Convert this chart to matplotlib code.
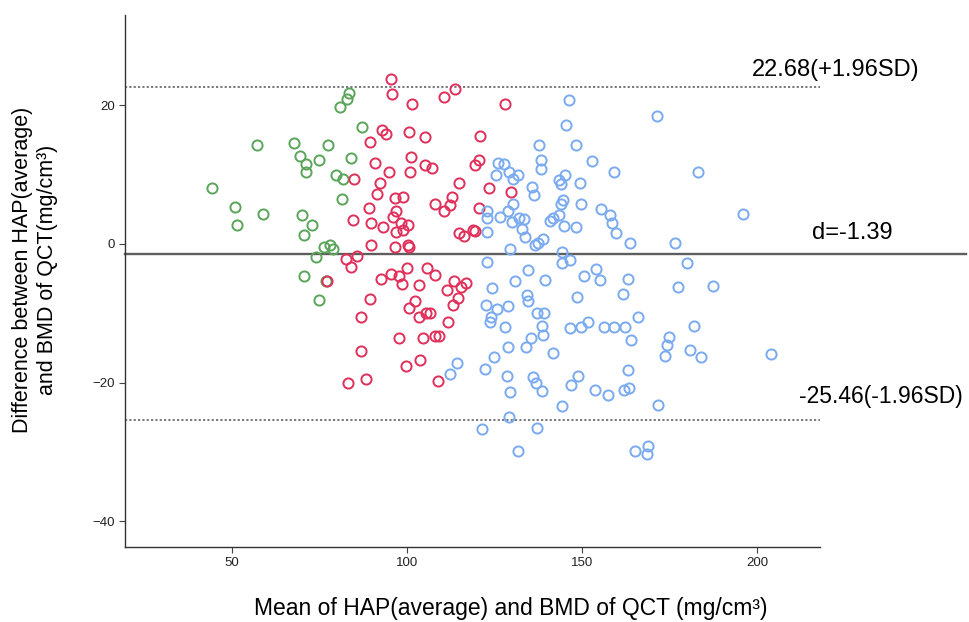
import matplotlib
matplotlib.use('Agg')
import matplotlib.pyplot as plt
import matplotlib.transforms as mtransforms

plt.rcParams['font.family'] = ['Liberation Sans', 'DejaVu Sans']

# ---- data ----
green_x = [80.7, 83.3, 82.8, 57.1, 67.8, 77.3, 69.5, 71.1, 74.9, 71.1, 79.7, 81.8, 44.2, 81.4, 87.2,
           84.0, 50.7, 58.9, 51.3, 69.9, 72.7, 70.6, 76.4, 78.9, 74.0, 78.0, 70.6, 76.9, 74.8]
green_y = [19.7, 21.7, 20.9, 14.2, 14.6, 14.2, 12.7, 11.5, 12.1, 10.4, 9.9, 9.4, 8.1, 6.5, 16.9,
           12.4, 5.3, 4.3, 2.7, 4.1, 2.7, 1.3, -0.4, -0.7, -1.9, -0.2, -4.6, -5.3, -8.1]

red_x = [95.3, 95.6, 101.3, 110.5, 113.6, 92.9, 94.1, 100.6, 105.2, 120.8, 89.3, 101.1, 90.9, 105.1,
         107.2, 120.5, 119.4, 94.9, 100.8, 84.9, 92.4, 114.7, 123.4, 91.5, 96.6, 98.9, 108.0, 112.9,
         128.0, 129.8, 82.6, 77.2, 89.1, 96.8, 95.9, 84.5, 89.7, 93.2, 98.2, 100.4, 96.8, 98.8, 89.6,
         96.6, 100.2, 100.5, 110.6, 112.3, 120.7, 114.7, 116.3, 118.9, 119.4, 85.6, 83.9, 95.4, 97.6,
         100.0, 105.8, 108.0, 92.5, 98.5, 103.4, 113.4, 116.8, 115.3, 111.3, 89.4, 114.5, 113.2, 102.3,
         100.6, 105.4, 106.6, 103.4, 86.8, 111.8, 97.7, 104.6, 108.0, 109.1, 86.8, 99.8, 103.7, 83.2,
         88.3, 108.7]
red_y = [23.8, 21.6, 20.1, 21.2, 22.3, 16.4, 15.8, 16.1, 15.4, 15.6, 14.7, 12.5, 11.6, 11.4,
         10.9, 12.1, 11.4, 10.3, 10.4, 9.4, 8.8, 8.8, 8.1, 7.2, 6.6, 6.8, 5.8, 6.7,
         20.2, 7.5, -2.2, -5.4, 5.2, 4.8, 3.9, 3.4, 3.0, 2.5, 3.0, 2.7, 1.7, 2.0, -0.2,
         -0.5, -0.2, -0.5, 4.7, 5.6, 5.2, 1.5, 1.2, 2.0, 1.8, -1.7, -3.3, -4.3, -4.6,
         -3.5, -3.5, -4.5, -5.1, -5.8, -5.9, -5.4, -5.6, -6.2, -6.6, -8.0, -7.8, -8.8, -8.2,
         -9.2, -10.0, -10.0, -10.6, -10.5, -11.3, -13.5, -13.5, -13.3, -13.3, -15.4, -17.6, -16.8, -20.1,
         -19.5, -19.7]

blue_x = [146.4, 145.4, 137.6, 148.2, 138.2, 138.3, 152.9, 159.1, 126.1, 127.8, 125.4, 129.1, 131.8,
          130.2, 145.2, 143.4, 144.0, 149.4, 135.6, 136.2, 171.3, 183.2, 144.5, 144.0, 130.4, 149.6,
          155.4, 158.0, 158.5, 159.6, 122.8, 122.8, 122.8, 128.8, 126.6, 132.1, 133.4, 130.1, 132.9,
          133.7, 143.4, 141.8, 140.9, 144.8, 148.4, 136.6, 137.5, 138.8, 129.4, 163.7, 144.2, 144.2,
          146.6, 122.8, 134.7, 153.9, 150.6, 155.1, 163.1, 130.9, 139.4, 124.2, 161.6, 134.3, 134.5,
          148.5, 122.5, 128.8, 125.8, 137.1, 139.2, 124.0, 123.6, 128.0, 138.5, 146.6, 149.6, 151.8,
          156.4, 159.2, 162.3, 196.1, 176.6, 180.1, 177.3, 187.4, 166.1, 182.1, 112.3, 114.4, 122.3,
          121.3, 163.9, 135.4, 138.8, 134.1, 128.9, 141.7, 124.9, 128.6, 135.9, 136.9, 138.5, 129.3,
          148.9, 146.9, 153.7, 157.3, 163.2, 161.9, 163.4, 144.2, 129.1, 137.1, 131.8, 165.1, 174.9,
          174.4, 173.7, 180.9, 184.0, 204.0, 171.8, 168.8, 168.5]
blue_y = [20.7, 17.1, 14.3, 14.2, 12.1, 10.8, 12.0, 10.4, 11.7, 11.5, 10.0, 10.4, 9.9,
          9.3, 9.9, 9.2, 8.7, 8.8, 8.2, 7.1, 18.5, 10.3, 6.3, 5.7, 5.8, 5.7,
          5.1, 4.1, 3.0, 1.5, 4.8, 3.7, 1.7, 4.7, 3.9, 3.7, 3.6, 3.1, 2.2,
          1.0, 4.2, 3.7, 3.3, 2.6, 2.4, -0.1, 0.2, 0.7, -0.7, 0.2, -1.1, -2.7,
          -2.3, -2.6, -3.8, -3.6, -4.6, -5.2, -5.1, -5.3, -5.2, -6.3, -7.2, -7.4, -8.3,
          -7.7, -8.8, -8.9, -9.4, -10.0, -9.9, -10.6, -11.2, -12.0, -11.8, -12.1, -12.0, -11.2,
          -12.0, -12.0, -12.0, 4.3, 0.2, -2.8, -6.2, -6.0, -10.5, -11.8, -18.8, -17.2, -18.0,
          -26.7, -13.8, -13.5, -13.1, -14.9, -14.9, -15.7, -16.3, -19.1, -19.2, -20.0, -21.2, -21.4,
          -19.0, -20.3, -21.1, -21.8, -18.2, -21.1, -20.8, -23.3, -24.9, -26.5, -29.9, -29.9, -13.4,
          -14.6, -16.2, -15.3, -16.3, -15.9, -23.2, -29.2, -30.3]

mean_diff = -1.39
upper_loa = 22.68
lower_loa = -25.46
x_ticks = [50, 100, 150, 200]
y_ticks = [-40, -20, 0, 20]
mean_label = "d=-1.39"
upper_label = "22.68(+1.96SD)"
lower_label = "-25.46(-1.96SD)"
x_label = "Mean of HAP(average) and BMD of QCT (mg/cm\u00b3)"
y_label = "Difference between HAP(average)\nand BMD of QCT(mg/cm\u00b3)"

# ---- figure ----
W, H = 970, 622
fig = plt.figure(figsize=(W / 100, H / 100), dpi=100)
ax = fig.add_axes([125 / W, 75 / H, 695 / W, 532 / H])

ax.set_xlim(19.4, 218)
ax.set_ylim(-43.7, 33.0)

mk = dict(linestyle='none', marker='o', markerfacecolor='none', markersize=7.3, markeredgewidth=1.4)
ax.plot(green_x, green_y, markeredgecolor='#5aa55a', **mk)
ax.plot(red_x, red_y, markeredgecolor='#e0305a', **mk)
ax.plot(blue_x, blue_y, markeredgecolor='#7aaaf0', **mk)

trans = mtransforms.blended_transform_factory(ax.transAxes, ax.transData)
ax.plot([0, 1.21], [mean_diff, mean_diff], color='#5e5e5e', lw=1.7, transform=trans, clip_on=False, zorder=1)
ax.plot([0, 1.0], [upper_loa, upper_loa], color='#6e6e6e', lw=1.3, ls=(0, (1.2, 1.2)), transform=trans, zorder=1)
ax.plot([0, 1.0], [lower_loa, lower_loa], color='#6e6e6e', lw=1.3, ls=(0, (1.2, 1.2)), transform=trans, zorder=1)

ax.annotate(upper_label, xy=(0.902, upper_loa), xycoords=trans, xytext=(0, 12), textcoords='offset points',
            ha='left', va='center', fontsize=17, annotation_clip=False)
ax.annotate(mean_label, xy=(0.988, mean_diff), xycoords=trans, xytext=(0, 15), textcoords='offset points',
            ha='left', va='center', fontsize=17, annotation_clip=False)
ax.annotate(lower_label, xy=(0.97, lower_loa), xycoords=trans, xytext=(0, 17), textcoords='offset points',
            ha='left', va='center', fontsize=16.5, annotation_clip=False)

ax.set_xticks(x_ticks)
ax.set_yticks(y_ticks)
ax.tick_params(axis='both', labelsize=9.5, length=4, width=0.8, color='#444444', labelcolor='#222222', direction='out')
for s in ['top', 'right']:
    ax.spines[s].set_visible(False)
for s in ['left', 'bottom']:
    ax.spines[s].set_color('#333333')
    ax.spines[s].set_linewidth(1.0)

fig.text(511 / W, 1 - 608 / H, x_label, ha='center', va='center', fontsize=16.5)
fig.text(35 / W, 1 - 270 / H, y_label, ha='center', va='center', rotation=90, fontsize=15.5,
         multialignment='center', linespacing=1.2)

fig.savefig('out.png', dpi=100)
